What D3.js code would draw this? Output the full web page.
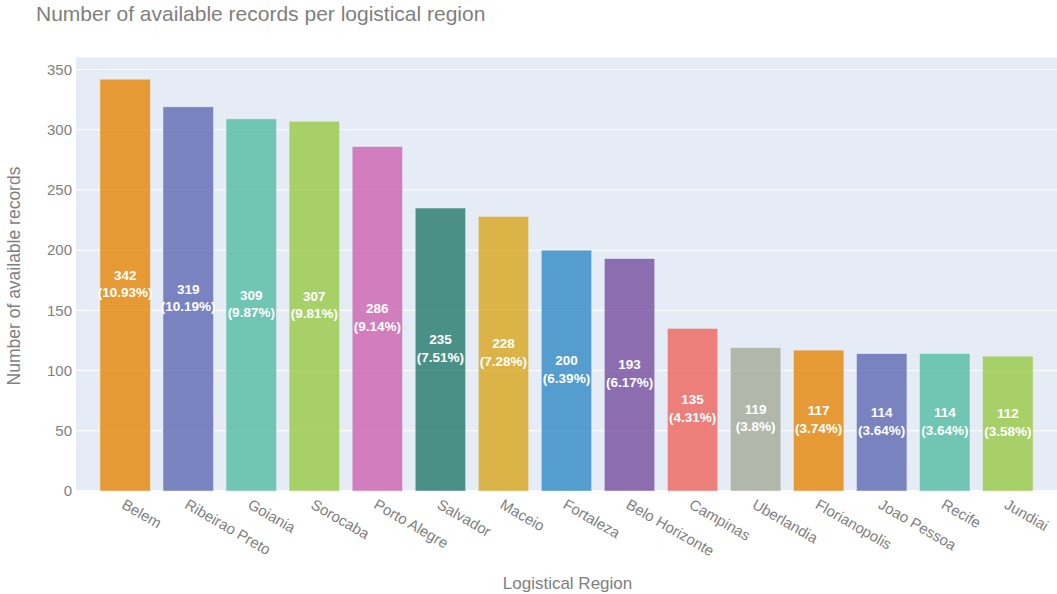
<!DOCTYPE html>
<html>
<head>
<meta charset="utf-8">
<script src="https://cdn.jsdelivr.net/npm/d3@7"></script>
<style>
  html, body { margin: 0; padding: 0; background: #fff; }
  svg { display: block; font-family: "Liberation Sans", Arial, sans-serif; }
</style>
</head>
<body>
<svg id="chart" width="1057" height="594"></svg>
<script>
// Records per logistical region
const regions = ["Belem", "Ribeirao Preto", "Goiania", "Sorocaba", "Porto Alegre", "Salvador",
  "Maceio", "Fortaleza", "Belo Horizonte", "Campinas", "Uberlandia", "Florianopolis",
  "Joao Pessoa", "Recife", "Jundiai"];
const records = [342, 319, 309, 307, 286, 235, 228, 200, 193, 135, 119, 117, 114, 114, 112];
const yTicks = [0, 50, 100, 150, 200, 250, 300, 350];
const palette = ["rgb(229,134,6)", "rgb(93,105,177)", "rgb(82,188,163)", "rgb(153,201,69)",
  "rgb(204,97,176)", "rgb(36,121,108)", "rgb(218,165,27)", "rgb(47,138,196)",
  "rgb(118,78,159)", "rgb(237,100,90)", "rgb(165,170,153)"];

const svg = d3.select("#chart");
const plot = { left: 76, right: 1057, top: 57.5, bottom: 491 };
const textGrey = "#7f7f7f";

const total = d3.sum(records);
const pct = v => `${Math.round(v / total * 10000) / 100}%`;

const x = d3.scaleBand()
  .domain(regions)
  .range([plot.left, plot.right])
  .paddingInner(0.2)
  .paddingOuter(0.38);

const y = d3.scaleLinear()
  .domain([0, 360])
  .range([plot.bottom, plot.top]);

// plot background
svg.append("rect")
  .attr("x", plot.left).attr("y", plot.top)
  .attr("width", plot.right - plot.left).attr("height", plot.bottom - plot.top)
  .attr("fill", "#E5ECF6");

// horizontal grid
svg.append("g")
  .selectAll("line")
  .data(yTicks)
  .join("line")
  .attr("x1", plot.left).attr("x2", plot.right)
  .attr("y1", d => y(d)).attr("y2", d => y(d))
  .attr("stroke", "#fff")
  .attr("stroke-width", d => d === 0 ? 2 : 1);

// y axis labels
const yAxis = d3.axisLeft(y).tickValues(yTicks).tickSize(0).tickPadding(4);
svg.append("g")
  .attr("transform", `translate(${plot.left},0)`)
  .call(yAxis)
  .call(g => g.select(".domain").remove())
  .call(g => g.selectAll("text")
    .attr("fill", textGrey)
    .attr("font-size", 15)
    .attr("font-family", "Liberation Sans, Arial, sans-serif"));

// bars
svg.append("g")
  .selectAll("rect")
  .data(regions)
  .join("rect")
  .attr("x", d => x(d))
  .attr("width", x.bandwidth())
  .attr("y", (d, i) => y(records[i]))
  .attr("height", (d, i) => y(0) - y(records[i]))
  .attr("fill", (d, i) => palette[i % palette.length])
  .attr("fill-opacity", 0.8)
  .attr("stroke", "#E5ECF6")
  .attr("stroke-width", 0.5);

// value labels inside the bars
const labels = svg.append("g")
  .selectAll("text")
  .data(regions)
  .join("text")
  .attr("text-anchor", "middle")
  .attr("fill", "#fff")
  .attr("font-size", 13.5)
  .attr("font-weight", "bold")
  .attr("transform", (d, i) => {
    const cx = x(d) + x.bandwidth() / 2;
    const cy = (y(records[i]) + y(0)) / 2;
    return `translate(${cx},${cy})`;
  });
labels.append("tspan").attr("x", 0).attr("dy", "-0.4em").text((d, i) => records[i]);
labels.append("tspan").attr("x", 0).attr("dy", "1.3em").text((d, i) => `(${pct(records[i])})`);

// x tick labels, rotated
svg.append("g")
  .selectAll("text")
  .data(regions)
  .join("text")
  .attr("transform", d => `translate(${x(d) + x.bandwidth() / 2 + 1},498) rotate(30)`)
  .attr("dy", 11)
  .attr("text-anchor", "start")
  .attr("fill", textGrey)
  .attr("font-size", 15)
  .text(d => d);

// axis titles
svg.append("text")
  .attr("x", (plot.left + plot.right) / 2 + 1)
  .attr("y", 589)
  .attr("text-anchor", "middle")
  .attr("fill", textGrey)
  .attr("font-size", 17)
  .text("Logistical Region");

svg.append("text")
  .attr("transform", `translate(20,276) rotate(-90)`)
  .attr("text-anchor", "middle")
  .attr("fill", textGrey)
  .attr("font-size", 17.5)
  .text("Number of available records");

// chart title
svg.append("text")
  .attr("x", 36)
  .attr("y", 21)
  .attr("fill", textGrey)
  .attr("font-size", 21)
  .text("Number of available records per logistical region");
</script>
</body>
</html>
